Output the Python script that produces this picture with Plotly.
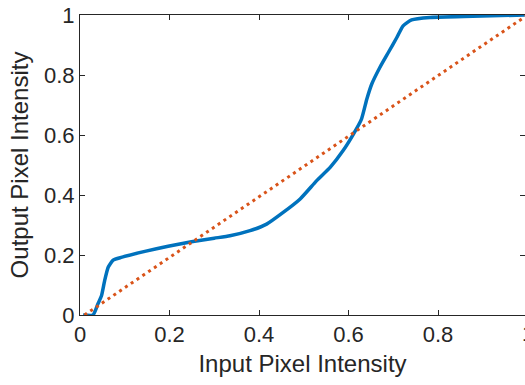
import plotly.graph_objects as go

# Blue transfer curve (input -> output intensity)
curve_x = [0.007, 0.029, 0.040, 0.048, 0.055, 0.063, 0.074, 0.092, 0.145, 0.197, 0.249,
           0.300, 0.335, 0.380, 0.417, 0.454, 0.492, 0.529, 0.559, 0.588, 0.611, 0.629,
           0.641, 0.652, 0.670, 0.689, 0.708, 0.722, 0.741, 0.782, 0.857, 0.994]
curve_y = [0.0, 0.0, 0.037, 0.064, 0.114, 0.159, 0.183, 0.192, 0.212, 0.229, 0.244,
           0.256, 0.264, 0.281, 0.303, 0.342, 0.387, 0.448, 0.492, 0.548, 0.603, 0.653,
           0.720, 0.770, 0.825, 0.875, 0.925, 0.964, 0.984, 0.992, 0.995, 1.0]

# Orange dotted identity-like reference line
ref_x = [0.01, 1.0]
ref_y = [0.0, 1.0]

tick_vals = [0, 0.2, 0.4, 0.6, 0.8, 1]
tick_text = ["0", "0.2", "0.4", "0.6", "0.8", "1"]

FONT = "Liberation Sans, Arial, Helvetica, sans-serif"
AX = "#262626"
X_MAX_VISIBLE = 0.9944

fig = go.Figure()
fig.add_trace(go.Scatter(x=curve_x, y=curve_y, mode="lines",
                         line=dict(color="#0072BD", width=3.5, shape="spline", smoothing=0.5),
                         showlegend=False))
fig.add_trace(go.Scatter(x=ref_x, y=ref_y, mode="lines",
                         line=dict(color="#D95319", width=3, dash="3px,4px"), showlegend=False))

# x tick label "1" lies just beyond the visible window edge (partially cut off)
fig.add_annotation(text="1", xref="paper", yref="paper", x=1.0 / X_MAX_VISIBLE, y=0,
                   xanchor="center", yanchor="top", yshift=-4, showarrow=False,
                   font=dict(size=22, color=AX, family=FONT))

fig.update_layout(
    width=525, height=385,
    margin=dict(l=80, r=0, t=15, b=70),
    paper_bgcolor="white", plot_bgcolor="white",
    font=dict(family=FONT, size=22, color=AX),
    xaxis=dict(range=[0, X_MAX_VISIBLE], tickvals=tick_vals, ticktext=tick_text,
               ticks="inside", ticklen=5, tickcolor=AX, tickwidth=1,
               showline=True, linecolor=AX, linewidth=1, mirror="ticks",
               showgrid=False, zeroline=False,
               title=dict(text="Input Pixel Intensity", font=dict(size=24, color=AX), standoff=8)),
    yaxis=dict(range=[0, 1], tickvals=tick_vals, ticktext=tick_text,
               ticks="inside", ticklen=5, tickcolor=AX, tickwidth=1,
               showline=True, linecolor=AX, linewidth=1, mirror="ticks",
               showgrid=False, zeroline=False,
               title=dict(text="Output Pixel Intensity", font=dict(size=24, color=AX), standoff=8)),
)

fig.write_html("out.html")
